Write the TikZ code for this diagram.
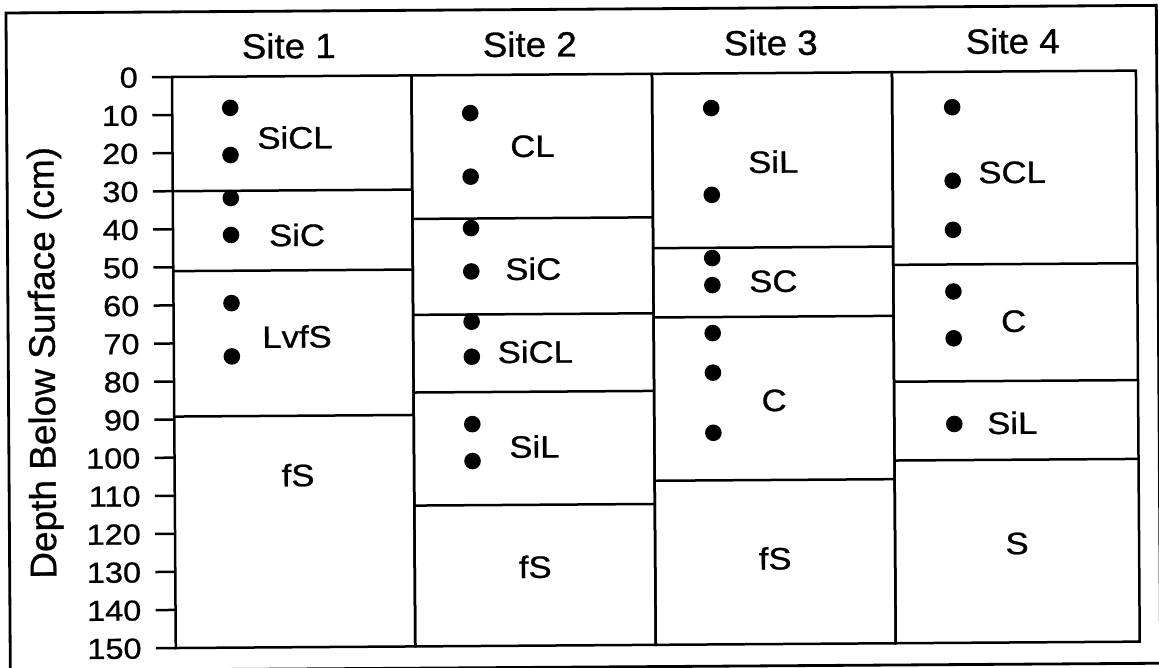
\documentclass[tikz,border=0pt]{standalone}
\usepackage{fontspec}
\setmainfont{Liberation Sans}[FakeBold=0.8]
\begin{document}
\begin{tikzpicture}[x=1pt,y=-1pt,
  frame/.style={line width=2.8pt},
  col/.style={line width=2.5pt},
  dot/.style={fill=black},
  lab/.style={inner sep=0pt, text height=22.2pt, text depth=0pt, font=\fontsize{31}{36}\selectfont, xscale=1.12},
  ticklab/.style={inner sep=0pt, text height=20.8pt, text depth=0pt, anchor=east, font=\fontsize{29}{34}\selectfont, xscale=1.12},
  title/.style={inner sep=0pt, text height=25.1pt, text depth=0pt, font=\fontsize{35}{40}\selectfont, xscale=1.05},
  axislab/.style={inner sep=0pt, font=\fontsize{37}{42}\selectfont, rotate=90, anchor=base}]
\useasboundingbox (0,0) rectangle (1159,668);
\begin{scope}[rotate around={0.38:(172,77)}, transform shape]
  \draw[frame] (6.4,11.9) rectangle (1156.8,669.8);
  \node[title] (site1) at (289,46.5) {Site 1};
  \node[title] (site2) at (530,46.5) {Site 2};
  \node[title] (site3) at (771,46.5) {Site 3};
  \node[title] (site4) at (1013,46.5) {Site 4};
  \node[axislab] (ylab) at (53,362) {Depth Below Surface (cm)};
  \begin{scope}[yshift=-77pt, y=-3.807pt]
    % ticks
    \foreach \d in {0,10,...,150} {
      \draw[col] (152,\d) -- (172,\d);
      \node[ticklab] (t\d) at (138,\d) {\d};
    }
    % columns
    \draw[col] (172,0) rectangle (411.5,150);
    \draw[col] (411.5,0) rectangle (652,150);
    \draw[col] (652,0) rectangle (892,150);
    \draw[col] (892,0) rectangle (1136,150);
    % site 1 layers
    \draw[col] (172,30) -- (411.5,30);
    \draw[col] (172,51) -- (411.5,51);
    \draw[col] (172,89.2) -- (411.5,89.2);
    % site 2 layers
    \draw[col] (411.5,37.7) -- (652,37.7);
    \draw[col] (411.5,62.9) -- (652,62.9);
    \draw[col] (411.5,83.3) -- (652,83.3);
    \draw[col] (411.5,113) -- (652,113);
    % site 3 layers
    \draw[col] (652,45.8) -- (892,45.8);
    \draw[col] (652,64) -- (892,64);
    \draw[col] (652,106.9) -- (892,106.9);
    % site 4 layers
    \draw[col] (892,50.6) -- (1136,50.6);
    \draw[col] (892,81.3) -- (1136,81.3);
    \draw[col] (892,102) -- (1136,102);
    % dots
    \foreach \d in {8.2,20.6,31.9,41.6,59.5,73.5} \fill[dot] (230,\d) circle[radius=8.3pt];
    \foreach \d in {10.0,26.7,40.2,51.6,64.8,74,91.7,101.4} \fill[dot] (470,\d) circle[radius=8.3pt];
    \foreach \d in {9.1,31.9,48.5,55.6,68.2,78.6,94.4} \fill[dot] (711,\d) circle[radius=8.3pt];
    \foreach \d in {9.3,28.6,41.5,57.7,70,92.5} \fill[dot] (952,\d) circle[radius=8.3pt];
    % labels site 1
    \node[lab] (a1) at (294.6,16.1) {SiCL};
    \node[lab] (a2) at (296,41.7) {SiC};
    \node[lab] (a3) at (295.3,68.4) {LvfS};
    \node[lab] (a4) at (295.4,104.8) {fS};
    % labels site 2
    \node[lab] (b1) at (532,18.7) {CL};
    \node[lab] (b2) at (532,51.0) {SiC};
    \node[lab] (b3) at (533.5,72.8) {SiCL};
    \node[lab] (b4) at (532,97.7) {SiL};
    \node[lab] (b5) at (532,129.3) {fS};
    % labels site 3
    \node[lab] (c1) at (772.7,23.3) {SiL};
    \node[lab] (c2) at (772,54.6) {SC};
    \node[lab] (c3) at (772,85.9) {C};
    \node[lab] (c4) at (772,127.5) {fS};
    % labels site 4
    \node[lab] (d1) at (1011.5,26.4) {SCL};
    \node[lab] (d2) at (1012,65.5) {C};
    \node[lab] (d3) at (1010,92.3) {SiL};
    \node[lab] (d4) at (1014,123.9) {S};
  \end{scope}
\end{scope}
\end{tikzpicture}
\end{document}
